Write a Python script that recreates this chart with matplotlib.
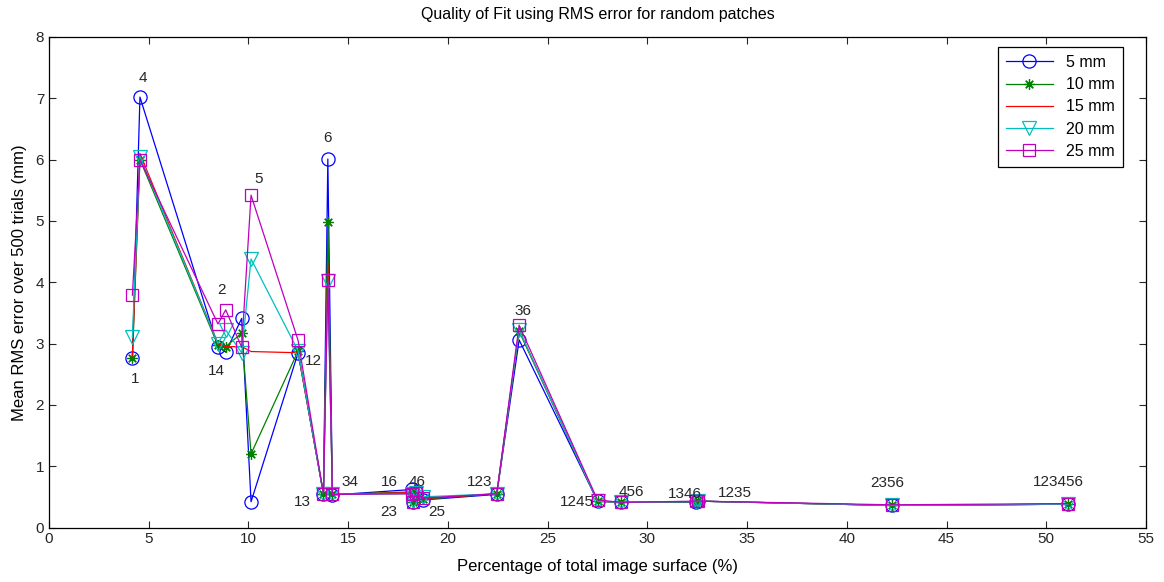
import matplotlib
matplotlib.use('Agg')
import matplotlib.pyplot as plt

plt.rcParams['font.family'] = ['Liberation Sans', 'DejaVu Sans']

# patch combinations, sorted by surface percentage
labels = ['1', '4', '2', '14', '3', '5', '12', '13', '6', '34', '16', '23', '46', '25',
          '123', '36', '1245', '456', '1346', '1235', '2356', '123456']
surface = [4.18, 4.56, 8.47, 8.86, 9.66, 10.13, 12.49, 13.76, 13.98, 14.21, 18.22, 18.25,
           18.4, 18.77, 22.45, 23.57, 27.5, 28.67, 32.45, 32.55, 42.28, 51.1]

rms_5mm = [2.76, 7.02, 2.95, 2.86, 3.41, 0.42, 2.85, 0.55, 6.01, 0.53, 0.62, 0.42, 0.58, 0.45,
           0.54, 3.06, 0.43, 0.41, 0.41, 0.43, 0.36, 0.38]
rms_10mm = [2.76, 6.0, 2.97, 2.95, 3.17, 1.2, 2.88, 0.55, 4.99, 0.54, 0.58, 0.42, 0.56, 0.46,
            0.55, 3.2, 0.43, 0.41, 0.42, 0.43, 0.36, 0.38]
rms_15mm = [2.8, 6.1, 3.0, 2.95, 2.95, 2.87, 2.85, 0.55, 4.3, 0.54, 0.57, 0.43, 0.56, 0.47,
            0.55, 3.22, 0.43, 0.41, 0.42, 0.43, 0.36, 0.38]
rms_20mm = [3.1, 6.05, 3.0, 3.22, 2.85, 4.38, 2.88, 0.55, 4.02, 0.54, 0.55, 0.43, 0.56, 0.5,
            0.55, 3.22, 0.43, 0.41, 0.42, 0.43, 0.36, 0.38]
rms_25mm = [3.79, 6.0, 3.32, 3.55, 2.94, 5.42, 3.05, 0.55, 4.04, 0.54, 0.55, 0.42, 0.57, 0.48,
            0.55, 3.3, 0.45, 0.41, 0.43, 0.43, 0.37, 0.39]

series_names = ['5 mm', '10 mm', '15 mm', '20 mm', '25 mm']

# label offsets in pixels from the 5 mm point (layout only)
label_offsets = [(3, -21), (3, 19), (4, 57), (-9, -19), (18, -2), (8, 323), (15, -8),
                 (-21, -8), (0, 21), (18, 13), (-23, 7), (-24, -10), (1, 10), (13, -12),
                 (-17, 12), (4, 29), (-21, -1), (11, 10), (-11, 8), (37, 8), (-5, 22),
                 (-10, 22)]

fig = plt.figure(figsize=(11.64, 5.82), dpi=100)
ax = fig.add_axes([49 / 1164, 54.5 / 582, 1097 / 1164, 490.5 / 582])

styles = [
    dict(color=(0, 0, 1), marker='o', markersize=9.5),
    dict(color=(0, 0.5, 0), marker=(8, 2, 0), markersize=7.5),
    dict(color=(1, 0, 0), marker=None),
    dict(color=(0, 0.75, 0.75), marker='v', markersize=9.5),
    dict(color=(0.75, 0, 0.75), marker='s', markersize=8.5),
]
all_series = [rms_5mm, rms_10mm, rms_15mm, rms_20mm, rms_25mm]

for vals, name, st in zip(all_series, series_names, styles):
    ax.plot(surface, vals, label=name, linewidth=0.9, markerfacecolor='none',
            markeredgewidth=0.9, **st)

for lab, xv, yv, off in zip(labels, surface, rms_5mm, label_offsets):
    ax.annotate(lab, (xv, yv), xytext=off, textcoords='offset pixels',
                ha='center', va='center', fontsize=11, color='#262626')

ax.set_xlim(0, 55)
ax.set_ylim(0, 8)
ax.set_xticks(range(0, 56, 5))
ax.set_yticks(range(0, 9))
ax.tick_params(direction='in', top=True, right=True, length=5, labelsize=11,
               width=0.8, colors='#262626')
for sp in ax.spines.values():
    sp.set_linewidth(0.9)

ax.set_title('Quality of Fit using RMS error for random patches', fontsize=11.5, pad=13)
ax.set_xlabel('Percentage of total image surface (%)', fontsize=12, labelpad=9)
ax.set_ylabel('Mean RMS error over 500 trials (mm)', fontsize=12, labelpad=6)

leg = ax.legend(loc='upper right', bbox_to_anchor=(0.979, 0.9796), borderaxespad=0,
                fancybox=False, edgecolor='black', fontsize=11.5, handlelength=3.0,
                labelspacing=0.45, borderpad=0.5, framealpha=1)
leg.get_frame().set_linewidth(0.9)

fig.savefig('out.png', dpi=100)
